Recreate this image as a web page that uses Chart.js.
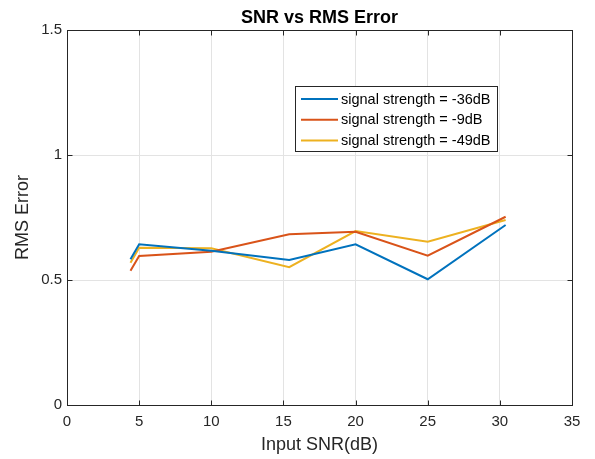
<!DOCTYPE html>
<html>
<head>
<meta charset="utf-8">
<script src="https://cdn.jsdelivr.net/npm/chart.js@4.4.0/dist/chart.umd.min.js"></script>
<style>
  html, body { margin: 0; padding: 0; background: #ffffff; }
  #wrap { width: 595px; height: 459px; }
</style>
</head>
<body>
<div id="wrap"><canvas id="c" width="595" height="459"></canvas></div>
<script>
// ---- data ----
const inputSNR = [4.4, 5, 10, 15.4, 20, 25, 30.4];
const rms36 = [0.583, 0.643, 0.617, 0.580, 0.643, 0.503, 0.720];
const rms9  = [0.537, 0.596, 0.613, 0.683, 0.693, 0.597, 0.753];
const rms49 = [0.569, 0.629, 0.627, 0.551, 0.696, 0.653, 0.740];
const seriesLabels = ['signal strength = -36dB', 'signal strength = -9dB', 'signal strength = -49dB'];
const xTicks = [0, 5, 10, 15, 20, 25, 30, 35];
const yTicks = [0, 0.5, 1, 1.5];
const chartTitle = 'SNR vs RMS Error';

const colors = ['#0072BD', '#D95319', '#EDB120'];
const FONT = '"Liberation Sans", Arial, Helvetica, sans-serif';
const AXIS_COLOR = '#262626';

function pts(ys) { return inputSNR.map((x, i) => ({ x: x, y: ys[i] })); }

const frameAndLegend = {
  id: 'frameAndLegend',
  afterDraw(chart) {
    const ctx = chart.ctx;
    const a = chart.chartArea;
    const xs = chart.scales.x, ys = chart.scales.y;
    ctx.save();
    ctx.strokeStyle = AXIS_COLOR;
    ctx.lineWidth = 1;
    const L = Math.round(a.left) + 0.5, R = Math.round(a.right) + 0.5;
    const T = Math.round(a.top) + 0.5, B = Math.round(a.bottom) + 0.5;
    ctx.strokeRect(L, T, R - L, B - T);
    const tl = 5;
    ctx.beginPath();
    xTicks.forEach(v => {
      const px = Math.round(xs.getPixelForValue(v)) + 0.5;
      ctx.moveTo(px, B); ctx.lineTo(px, B - tl);
      ctx.moveTo(px, T); ctx.lineTo(px, T + tl);
    });
    yTicks.forEach(v => {
      const py = Math.round(ys.getPixelForValue(v)) + 0.5;
      ctx.moveTo(L, py); ctx.lineTo(L + tl, py);
      ctx.moveTo(R, py); ctx.lineTo(R - tl, py);
    });
    ctx.stroke();

    // title centred over the axes
    ctx.fillStyle = '#000000';
    ctx.font = 'bold 18px ' + FONT;
    ctx.textAlign = 'center';
    ctx.textBaseline = 'alphabetic';
    ctx.fillText(chartTitle, (a.left + a.right) / 2, 23);

    // legend box
    const bx = 295.5, by = 86.5, bw = 202, bh = 65;
    ctx.fillStyle = '#ffffff';
    ctx.fillRect(bx, by, bw, bh);
    ctx.strokeStyle = '#262626';
    ctx.lineWidth = 1;
    ctx.strokeRect(bx, by, bw, bh);
    ctx.font = '14.5px ' + FONT;
    ctx.textBaseline = 'middle';
    ctx.textAlign = 'left';
    chart.data.datasets.forEach((ds, i) => {
      const cy = 99 + i * 20.8;
      ctx.strokeStyle = ds.borderColor;
      ctx.lineWidth = 2;
      ctx.beginPath();
      ctx.moveTo(301, cy); ctx.lineTo(338, cy);
      ctx.stroke();
      ctx.fillStyle = '#000000';
      ctx.fillText(ds.label, 341, cy + 0.5);
    });
    ctx.restore();
  }
};

new Chart(document.getElementById('c'), {
  type: 'line',
  data: {
    datasets: [
      { label: seriesLabels[0], data: pts(rms36), borderColor: colors[0], backgroundColor: colors[0] },
      { label: seriesLabels[1], data: pts(rms9),  borderColor: colors[1], backgroundColor: colors[1] },
      { label: seriesLabels[2], data: pts(rms49), borderColor: colors[2], backgroundColor: colors[2] }
    ]
  },
  options: {
    responsive: false,
    animation: false,
    devicePixelRatio: 1,
    layout: { padding: { left: 0, right: 23, top: 30, bottom: 0 } },
    elements: {
      line: { borderWidth: 2, tension: 0 },
      point: { radius: 0, hoverRadius: 0 }
    },
    plugins: {
      legend: { display: false },
      tooltip: { enabled: false },
      title: { display: false }
    },
    scales: {
      x: {
        type: 'linear',
        min: 0, max: 35,
        afterBuildTicks(scale) { scale.ticks = xTicks.map(v => ({ value: v })); },
        afterFit(scale) { scale.height = 54; },
        grid: { color: '#e3e3e3', drawTicks: false },
        border: { display: false },
        ticks: {
          color: AXIS_COLOR, padding: 8,
          font: { family: FONT, size: 15 },
          maxRotation: 0,
          callback: v => String(v)
        },
        title: {
          display: true, text: 'Input SNR(dB)', color: AXIS_COLOR,
          font: { family: FONT, size: 18 }, padding: { top: 0, bottom: 3.2 }
        }
      },
      y: {
        type: 'linear',
        min: 0, max: 1.5,
        afterBuildTicks(scale) { scale.ticks = yTicks.map(v => ({ value: v })); },
        afterFit(scale) { scale.width = 67; },
        grid: { color: '#e3e3e3', drawTicks: false },
        border: { display: false },
        ticks: {
          color: AXIS_COLOR, padding: 5,
          font: { family: FONT, size: 15 },
          callback: v => String(v)
        },
        title: {
          display: true, text: 'RMS Error', color: AXIS_COLOR,
          font: { family: FONT, size: 18 }, padding: { top: 12.2, bottom: 0 }
        }
      }
    }
  },
  plugins: [frameAndLegend]
});
</script>
</body>
</html>
